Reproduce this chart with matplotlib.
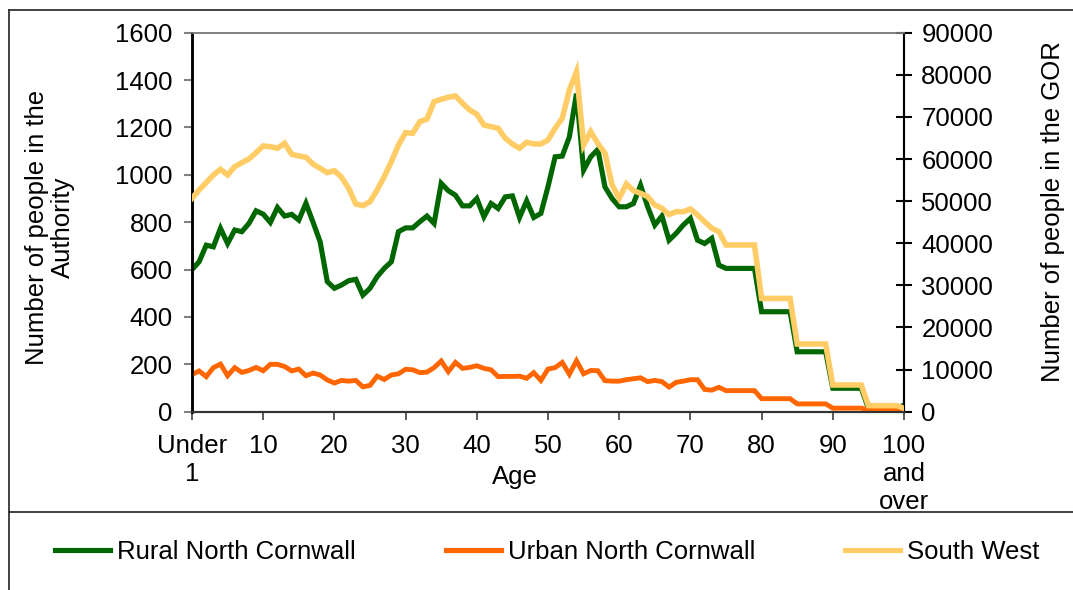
import matplotlib
matplotlib.use("Agg")
import matplotlib.pyplot as plt
from matplotlib.lines import Line2D
import numpy as np

plt.rcParams['font.family'] = ['Liberation Sans', 'DejaVu Sans']

ages = list(range(0, 101))
tick_ages = [0, 10, 20, 30, 40, 50, 60, 70, 80, 90, 100]
tick_labels = ["Under\n1", "10", "20", "30", "40", "50", "60", "70", "80", "90", "100\nand\nover"]

rural = [600, 633, 703, 696, 774, 710, 767, 760, 795, 848,
         834, 799, 862, 826, 833, 809, 880, 800, 717, 549,
         521, 535, 553, 559, 492, 521, 570, 605, 633, 760,
         776, 776, 802, 826, 795, 964, 933, 914, 869, 869,
         900, 823, 879, 858, 907, 911, 820, 890, 820, 837,
         950, 1076, 1079, 1160, 1343, 1020, 1076, 1107, 949, 900,
         865, 865, 879, 956, 865, 788, 826, 724, 753, 788,
         816, 724, 710, 732, 619, 605, 605, 605, 605, 605,
         422, 422, 422, 422, 422, 253, 253, 253, 253, 253,
         99, 99, 99, 99, 99, 14, 14, 14, 14, 14,
         28]

urban = [157, 172, 148, 186, 201, 152, 186, 166, 174, 187,
         173, 200, 200, 191, 172, 180, 152, 163, 155, 134,
         121, 132, 129, 132, 105, 111, 150, 136, 155, 160,
         179, 177, 165, 167, 186, 214, 169, 208, 183, 187,
         194, 183, 177, 148, 149, 149, 150, 141, 165, 132,
         180, 186, 208, 158, 215, 160, 174, 173, 131, 129,
         129, 135, 139, 143, 127, 132, 127, 104, 124, 129,
         135, 135, 94, 91, 103, 89, 89, 89, 89, 89,
         55, 55, 55, 55, 55, 33, 33, 33, 33, 33,
         15, 15, 15, 15, 15, 7, 7, 7, 7, 7,
         6]

south_west = [50680, 52650, 54390, 56220, 57570, 56220, 58190, 59140, 60020, 61510,
              63100, 62940, 62560, 63740, 61130, 60730, 60420, 58800, 57800, 56770,
              57240, 55670, 53060, 49330, 48930, 49880, 52650, 55810, 59380, 63340,
              66260, 66120, 68880, 69480, 73630, 74190, 74670, 74980, 73240, 71650,
              70630, 68090, 67690, 67310, 64930, 63580, 62560, 63980, 63580, 63580,
              64530, 67310, 69680, 76400, 80750, 63340, 66500, 63700, 61370, 53840,
              50680, 54080, 52490, 51870, 51060, 49090, 48310, 46800, 47500, 47500,
              48140, 46720, 45130, 43560, 42750, 39590, 39590, 39590, 39590, 39590,
              26900, 26900, 26900, 26900, 26900, 16080, 16080, 16080, 16080, 16080,
              6340, 6340, 6340, 6340, 6340, 1430, 1430, 1430, 1430, 1430,
              800]

series_names = ["Rural North Cornwall", "Urban North Cornwall", "South West"]
colors = ["#006600", "#FF6600", "#FFCC66"]

W, H = 1073, 590
fig = plt.figure(figsize=(W / 100, H / 100), dpi=100)
fs = 18.5

x0, x1 = 192, 904
y0, y1 = 32.7, 411.7
ax = fig.add_axes([x0 / W, 1 - y1 / H, (x1 - x0) / W, (y1 - y0) / H])
ax2 = ax.twinx()

l1, = ax.plot(ages, rural, color=colors[0], lw=3.7, solid_joinstyle='miter', zorder=3)
l2, = ax.plot(ages, urban, color=colors[1], lw=3.5, solid_joinstyle='miter', zorder=4)
l3, = ax2.plot(ages, south_west, color=colors[2], lw=4.0, solid_joinstyle='miter', zorder=3)

ax.set_xlim(0, 100)
ax.set_ylim(0, 1600)
ax2.set_ylim(0, 90000)
ax.set_yticks(np.arange(0, 1601, 200))
ax2.set_yticks(np.arange(0, 90001, 10000))
ax.set_xticks(tick_ages)
ax.set_xticklabels(tick_labels, fontsize=fs, linespacing=1.2)

ax.tick_params(axis='y', direction='out', length=6, width=1.5, color='#808080', pad=8, labelsize=fs)
ax.tick_params(axis='x', direction='out', length=6, width=1.2, color='#404040', pad=10, labelsize=fs)
ax2.tick_params(axis='y', direction='inout', length=11, width=1.5, color='black', pad=7, labelsize=fs)

for a in (ax, ax2):
    a.spines['top'].set_color('#808080')
    a.spines['top'].set_linewidth(1.2)
    a.spines['left'].set_color('black')
    a.spines['left'].set_linewidth(1.8)
    a.spines['right'].set_color('black')
    a.spines['right'].set_linewidth(1.5)
    a.spines['bottom'].set_color('#333333')
    a.spines['bottom'].set_linewidth(1.5)
    a.patch.set_visible(False)

fig.text(515 / W, 1 - 477 / H, "Age", ha='center', va='center', fontsize=fs)
fig.text(50 / W, 1 - 227 / H, "Number of people in the\nAuthority", rotation=90,
         ha='center', va='center', fontsize=fs, multialignment='center', linespacing=1.1)
fig.text(1053 / W, 1 - 212 / H, "Number of people in the GOR", rotation=90,
         ha='center', va='center', fontsize=fs)

# outer chart border and separator
fig.add_artist(Line2D([9 / W, 9 / W], [0, 1 - 10 / H], color='#333333', lw=1.3, transform=fig.transFigure))
fig.add_artist(Line2D([9 / W, 1], [1 - 10 / H, 1 - 10 / H], color='#333333', lw=1.3, transform=fig.transFigure))
fig.add_artist(Line2D([9 / W, 1], [1 - 512 / H, 1 - 512 / H], color='#333333', lw=1.3, transform=fig.transFigure))

handles = [Line2D([0], [0], color=c, lw=3.7) for c in colors]
fig.legend(handles, series_names, loc='center left', bbox_to_anchor=(55 / W, 1 - 552 / H),
           ncol=3, frameon=False, fontsize=fs, handlelength=2.14, handletextpad=0.27,
           columnspacing=3.5, borderpad=0, borderaxespad=0)

fig.savefig("out.png", dpi=100)
